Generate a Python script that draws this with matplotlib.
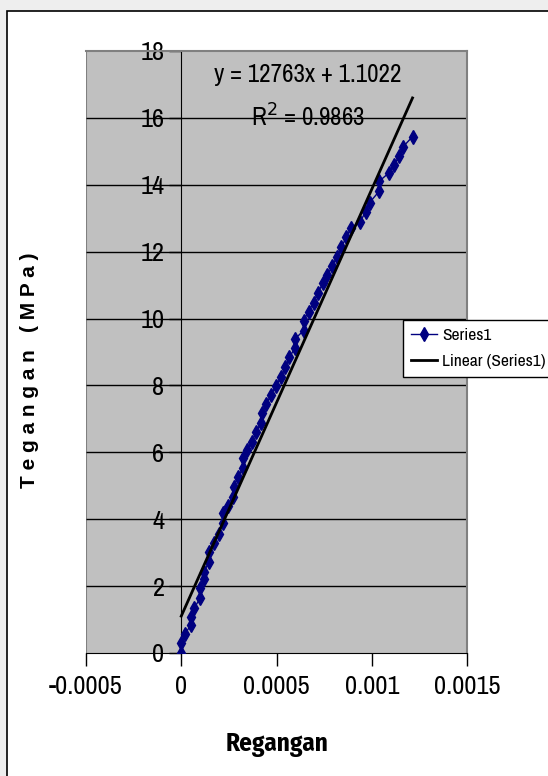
import matplotlib
matplotlib.use("Agg")
import matplotlib.pyplot as plt
from matplotlib.patches import Rectangle
from matplotlib.lines import Line2D
import numpy as np

# strain / stress readings from the tensile test
regangan = [0, 0, 0.0000195, 0.000051, 0.000051, 0.0000684, 0.0000984, 0.0000984,
            0.000117, 0.000121, 0.000144, 0.000147, 0.00017, 0.000196, 0.000217,
            0.000221, 0.000244, 0.00027, 0.000275, 0.000296, 0.000323, 0.000323,
            0.000346, 0.000372, 0.000393, 0.000419, 0.000423, 0.000446, 0.000472,
            0.000495, 0.000525, 0.000547, 0.000568, 0.000595, 0.000595, 0.000642,
            0.000642, 0.000668, 0.000695, 0.000717, 0.000744, 0.000767, 0.000793,
            0.000817, 0.000841, 0.000867, 0.000889, 0.00094, 0.000968, 0.000989,
            0.001038, 0.001038, 0.001091, 0.001117, 0.001144, 0.001165, 0.001214]
tegangan = [0, 0.29, 0.57, 0.84, 1.09, 1.34, 1.64, 1.93, 2.20, 2.43, 2.73, 3.03,
            3.28, 3.56, 3.88, 4.18, 4.40, 4.67, 4.97, 5.25, 5.52, 5.82, 6.07, 6.32,
            6.62, 6.89, 7.17, 7.45, 7.72, 7.98, 8.26, 8.56, 8.84, 9.11, 9.38, 9.64,
            9.94, 10.21, 10.48, 10.77, 11.06, 11.30, 11.57, 11.85, 12.15, 12.43,
            12.70, 12.90, 13.20, 13.47, 13.80, 14.10, 14.36, 14.59, 14.86, 15.14,
            15.44]

# linear trendline
slope = 12763
intercept = 1.1022
r_squared = 0.9863

x_ticks = [-0.0005, 0, 0.0005, 0.001, 0.0015]
x_ticklabels = ["-0.0005", "0", "0.0005", "0.001", "0.0015"]
y_ticks = [0, 2, 4, 6, 8, 10, 12, 14, 16, 18]

NARROW = ["Archivo Narrow", "Liberation Sans", "DejaVu Sans"]
NARROW_BOLD = ["Fira Sans Condensed", "Liberation Sans", "DejaVu Sans"]
plt.rcParams["font.family"] = NARROW

fig = plt.figure(figsize=(5.48, 7.76), dpi=100, facecolor="#eeeeee")
# chart frame
fig.add_artist(Rectangle((7 / 548, -0.05), 1.2, 1.05 - 11 / 776,
                         transform=fig.transFigure, facecolor="white",
                         edgecolor="black", linewidth=1.2, zorder=0))

ax = fig.add_axes([86 / 548, 1 - 653 / 776, (467 - 86) / 548, (653 - 51) / 776])
ax.set_facecolor("#c0c0c0")
ax.set_xlim(-0.0005, 0.0015)
ax.set_ylim(0, 18)

for side in ["top", "right"]:
    ax.spines[side].set_color("#808080")
    ax.spines[side].set_linewidth(1.5)
ax.spines["left"].set_position(("data", 0))
ax.spines["left"].set_color("black")
ax.spines["bottom"].set_color("black")
# plot-area border on the left edge
ax.axvline(-0.0005, color="#808080", linewidth=1.5, zorder=0.5)

ax.set_yticks(y_ticks)
ax.set_yticklabels([str(v) for v in y_ticks])
ax.set_xticks(x_ticks)
ax.set_xticklabels(x_ticklabels)
ax.tick_params(axis="x", direction="out", length=9, width=1, pad=7, labelsize=19)
ax.tick_params(axis="y", direction="out", length=9, width=1, pad=3, labelsize=19)
ax.hlines(y_ticks[1:-1], -0.0005, 0.0015, color="black", linewidth=1, zorder=1)

ax.plot(regangan, tegangan, color="#000080", linewidth=1, marker="d",
        markersize=7.5, markerfacecolor="#000080", markeredgecolor="#000080",
        zorder=3)
x_fit = np.array([0, max(regangan)])
ax.plot(x_fit, slope * x_fit + intercept, color="black", linewidth=2, zorder=4)

ax.text(0.000663, 17.31, f"y = {slope}x + {intercept}", fontsize=18,
        ha="center", va="center")
ax.text(0.000663, 16.03, f"R$^2$ = {r_squared}", fontsize=18,
        ha="center", va="center")

fig.text(30 / 548, 1 - 370 / 776, "T e g a n g a n   ( M P a )",
         rotation=90, ha="center", va="center", fontsize=15,
         fontweight="bold", family=["Liberation Sans", "DejaVu Sans"])
fig.text(277 / 548, 1 - 745 / 776, "Regangan", ha="center", va="center",
         fontsize=18, fontweight="bold", family=NARROW_BOLD)

handles = [Line2D([], [], color="#000080", linewidth=1, marker="d", markersize=7.5),
           Line2D([], [], color="black", linewidth=2)]
leg = fig.legend(handles, ["Series1", "Linear (Series1)"], loc="upper left",
                 bbox_to_anchor=(403 / 548, 1 - 320 / 776), fontsize=12.5,
                 frameon=True, fancybox=False, framealpha=1, edgecolor="black",
                 handlelength=1.5, handletextpad=0.3, borderpad=0.45,
                 labelspacing=0.65, borderaxespad=0)
leg.get_frame().set_linewidth(1)

fig.savefig("out.png", dpi=100, facecolor=fig.get_facecolor())
